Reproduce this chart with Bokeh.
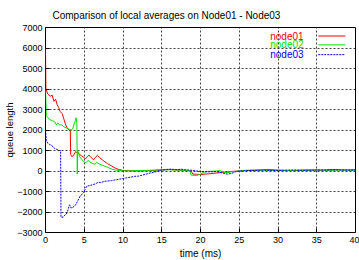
from bokeh.plotting import figure
from bokeh.models import ColumnDataSource, FixedTicker, Range1d, Title
from bokeh.embed import file_html
from bokeh.resources import INLINE
from bokeh.core.properties import value

FONT = "Liberation Sans"

# local average queue length per node (time in ms)
node01_t = [0, 0.05, 0.3, 0.6, 0.85, 1.1, 1.3, 1.5, 1.7, 1.9, 2.15, 2.4, 2.6, 2.8, 3.0, 3.2,
            3.25, 3.4, 3.6, 3.9, 4.0, 4.3, 4.6, 5.0, 5.2, 5.4, 5.6, 5.9, 6.2, 6.4, 6.7, 7.0,
            7.4, 8.0, 8.5, 9.0, 9.5, 10, 11, 12, 13, 14, 15, 16, 17, 18, 18.8, 19.0, 19.5,
            20, 21, 22, 23, 24, 25, 26, 27, 28, 29, 30, 31, 32, 33, 34, 35, 36, 37, 38, 39, 40]
node01_q = [6000, 4000, 3750, 3650, 3700, 3400, 3500, 3250, 3100, 2900, 2800, 2500, 2250, 2100,
            2000, 1950, 800, 700, 750, 950, 900, 850, 750, 650, 600, 700, 780, 650, 550, 650,
            760, 650, 520, 360, 250, 140, 70, 30, 10, 0, 10, 30, 60, 70, 50, 30, 0, -150, -160,
            -170, -140, -100, -60, -20, 0, 20, 30, 60, 70, 40, 30, 20, 40, 50, 40, 50, 70, 60,
            50, 60]

node02_t = [0, 0.1, 0.3, 0.6, 0.9, 1.2, 1.4, 1.6, 1.8, 2.1, 2.4, 2.7, 3.0, 3.3, 3.5, 3.7,
            3.85, 3.95, 4.05, 4.1, 4.15, 4.4, 4.7, 5.0, 5.2, 5.5, 5.7, 6.0, 6.3, 6.6, 6.9, 7.4,
            8.0, 8.5, 9.0, 9.5, 10, 11, 12, 13, 14, 15, 16, 17, 18, 18.6, 18.8, 19.5, 20, 20.5,
            21, 22, 22.5, 23, 23.5, 24, 25, 26, 27, 28, 29, 30, 31, 32, 33, 34, 35, 36, 37, 38,
            39, 40]
node02_q = [4000, 2700, 2600, 2500, 2450, 2400, 2250, 2350, 2250, 2250, 2150, 2100, 2050, 2000,
            2050, 2300, 2450, 2600, 2300, -150, 1000, 700, 550, 450, 400, 520, 450, 380, 330,
            420, 350, 270, 180, 100, 50, 20, 10, 10, 20, 30, 40, 60, 60, 50, 30, 20, -200, -220,
            -150, -60, -20, 0, 20, -60, -80, -40, 0, 40, 50, 40, 30, 40, 20, 30, 40, 30, 50, 40,
            30, 50, 40, 40]

node03_t = [0, 0.1, 0.3, 0.5, 0.8, 1.0, 1.2, 1.5, 1.8, 1.95, 2.0, 2.3, 2.5, 2.7, 2.9, 3.1, 3.3,
            3.5, 3.7, 3.9, 4.1, 4.3, 4.5, 4.7, 4.9, 5.1, 5.3, 5.6, 6.0, 6.5, 6.8, 7.2, 7.6, 8.0,
            8.5, 9.0, 9.5, 10, 10.5, 11, 11.5, 12, 12.5, 13, 13.5, 14, 14.5, 15, 15.5, 16, 16.5,
            17, 17.5, 18, 18.5, 19, 19.5, 20, 21, 22, 22.5, 23, 23.5, 24, 24.5, 25, 26, 27, 28,
            29, 30, 31, 32, 33, 34, 35, 36, 37, 38, 39, 40]
node03_q = [2000, 1500, 1350, 1300, 1250, 1150, 1100, 1050, 1000, 1000, -2250, -2250, -2150,
            -2100, -1900, -1650, -1800, -1800, -1700, -1650, -1500, -1350, -1200, -1150, -1050,
            -900, -750, -720, -680, -620, -550, -560, -500, -490, -470, -430, -400, -370, -330,
            -300, -260, -250, -200, -150, -100, -60, 0, 40, 70, 90, 80, 60, 90, 60, 50, 30, 0,
            -20, -40, -30, -60, -120, -150, -120, -40, 0, 20, 30, 40, 30, 20, 40, 50, 30, 40,
            50, 40, 60, 50, 40, 50]

series_names = ["node01", "node02", "node03"]
series_colors = ["#ff0000", "#00e000", "#0000ff"]
series_dash = ["solid", "solid", "2 1"]

x_ticks = [0, 5, 10, 15, 20, 25, 30, 35, 40]
y_ticks = [-3000, -2000, -1000, 0, 1000, 2000, 3000, 4000, 5000, 6000, 7000]

p = figure(width=359, height=260, output_backend="svg", toolbar_location=None,
           x_range=Range1d(0, 40), y_range=Range1d(-3000, 7000),
           min_border_left=45, min_border_right=4, min_border_top=23, min_border_bottom=28,
           title="Comparison of local averages on Node01 - Node03")
p.background_fill_color = "white"
p.border_fill_color = "white"
p.outline_line_color = "black"
p.outline_line_width = 1
p.outline_line_alpha = 1

p.title.text_font = FONT
p.title.text_font_size = "10px"
p.title.text_font_style = "normal"
p.title.text_color = "black"
p.title.align = "left"
p.title.offset = 7
p.title.standoff = 14

p.xaxis[0].ticker = FixedTicker(ticks=x_ticks)
p.yaxis[0].ticker = FixedTicker(ticks=y_ticks)
for ax in (p.xaxis[0], p.yaxis[0]):
    ax.major_label_text_font = FONT
    ax.major_label_text_font_size = "9px"
    ax.major_label_text_color = "black"
    ax.major_tick_in = 4
    ax.major_tick_out = 0
    ax.minor_tick_in = 0
    ax.minor_tick_out = 0
    ax.axis_line_color = None
    ax.major_tick_line_color = "black"

p.xaxis[0].major_label_standoff = 4
p.yaxis[0].major_label_standoff = 3

# axis titles, centred on the plot frame
x_title = Title(text="time (ms)", align="center", text_font=FONT, text_font_size="10px",
                text_font_style="normal", text_color="black", standoff=0)
y_title = Title(text="queue length", align="center", text_font=FONT, text_font_size="9.5px",
                text_font_style="normal", text_color="black", standoff=0)
p.add_layout(x_title, "below")
p.add_layout(y_title, "left")

# dotted grid at every labelled tick
p.xgrid[0].ticker = p.xaxis[0].ticker
p.ygrid[0].ticker = p.yaxis[0].ticker
for g in (p.xgrid[0], p.ygrid[0]):
    g.grid_line_color = "#000000"
    g.grid_line_dash = "2 2"
    g.grid_line_alpha = 0.75
    g.grid_line_width = 1
    g.level = "underlay"

for name, t, q, c, d in zip(series_names, [node01_t, node02_t, node03_t],
                            [node01_q, node02_q, node03_q], series_colors, series_dash):
    src = ColumnDataSource(dict(t=t, q=q))
    p.line("t", "q", source=src, line_color=c, line_width=1, line_dash=d)

# key in the upper right: coloured names followed by line samples
key_y = [6584, 6153, 5675]
key_src = ColumnDataSource(dict(x=[33.3] * 3, y=key_y, text=series_names, color=series_colors))
p.text("x", "y", text="text", source=key_src, text_color="color", text_align="right",
       text_baseline="middle", text_font=value(FONT), text_font_size="10px")
for yk, c, d in zip(key_y, series_colors, series_dash):
    p.line([35.2, 38.7], [yk, yk], line_color=c, line_width=1, line_dash=d)

open("out.html", "w").write(file_html(p, INLINE))
